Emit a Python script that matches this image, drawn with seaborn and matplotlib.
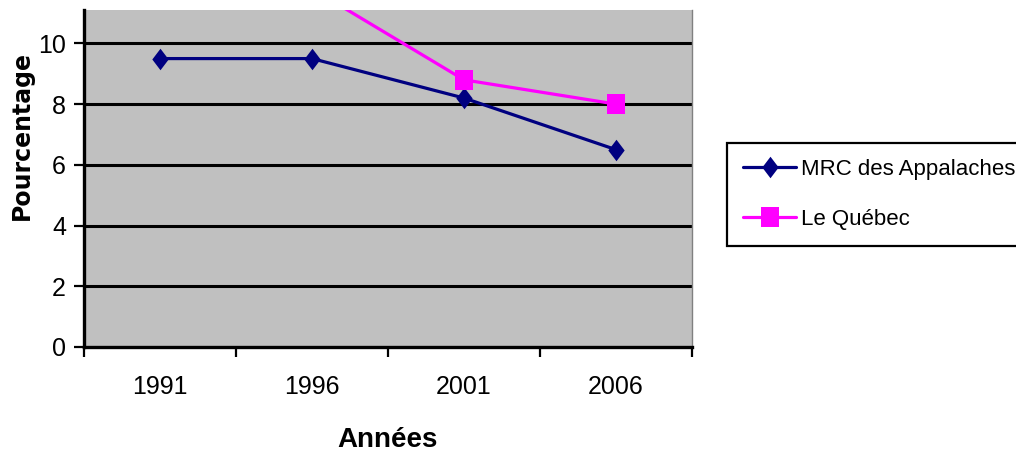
import numpy as np
import pandas as pd
import matplotlib
matplotlib.use("Agg")
import matplotlib.pyplot as plt
from matplotlib import font_manager as fm
import seaborn as sns

# Taux (%) par recensement
annees = ["1991", "1996", "2001", "2006"]
mrc_appalaches = [9.5, 9.5, 8.2, 6.5]
le_quebec = [12.0, 11.8, 8.8, 8.0]
series_noms = ["MRC des Appalaches", "Le Québec"]
y_ticks = [0, 2, 4, 6, 8, 10]

df = pd.DataFrame({
    "annee": list(range(len(annees))) * 2,
    "valeur": mrc_appalaches + le_quebec,
    "serie": [series_noms[0]] * len(annees) + [series_noms[1]] * len(annees),
})

sns.set_style("white")
installed = {f.name for f in fm.fontManager.ttflist}
narrow = "Liberation Sans Narrow" if "Liberation Sans Narrow" in installed else "Liberation Sans"
plt.rcParams["font.family"] = [narrow, "DejaVu Sans"]
plt.rcParams["text.color"] = "black"
plt.rcParams["axes.labelcolor"] = "black"
plt.rcParams["xtick.color"] = "black"
plt.rcParams["ytick.color"] = "black"

couleurs = {series_noms[0]: "#000080", series_noms[1]: "#FF00FF"}
# diamant un peu plus haut que large, carré légèrement étiré
losange = [(0, 0.5), (0.38, 0), (0, -0.5), (-0.38, 0), (0, 0.5)]
carre = [(-0.42, -0.5), (0.42, -0.5), (0.42, 0.5), (-0.42, 0.5), (-0.42, -0.5)]
marqueurs = {series_noms[0]: (losange, 15.5), series_noms[1]: (carre, 15.0)}

fig = plt.figure(figsize=(10.16, 4.53), dpi=100)
ax = fig.add_axes([84 / 1016, (453 - 347) / 453, (692 - 84) / 1016, (347 - 10) / 453])
ax.set_facecolor("#C0C0C0")

for nom in series_noms:
    m, ms = marqueurs[nom]
    sns.lineplot(data=df[df["serie"] == nom], x="annee", y="valeur", ax=ax,
                 color=couleurs[nom], linewidth=2.3, marker=m, markersize=ms,
                 markeredgewidth=0, legend=False, zorder=3)

ax.set_xlim(-0.5, len(annees) - 0.5)
ax.set_ylim(0, 11.1)

# grille horizontale noire
ax.set_yticks(y_ticks)
ax.set_yticklabels([str(v) for v in y_ticks])
for v in y_ticks[1:]:
    ax.axhline(v, color="black", linewidth=2.2, zorder=1)

# graduations aux frontières des catégories, étiquettes au centre
ax.set_xticks(np.arange(-0.5, len(annees), 1.0))
ax.set_xticklabels([])
ax.set_xticks(range(len(annees)), minor=True)
ax.set_xticklabels(annees, minor=True)
ax.tick_params(axis="x", which="major", direction="out", length=7, width=1.6, color="black", bottom=True)
ax.tick_params(axis="x", which="minor", length=0, pad=20, labelsize=18)
ax.tick_params(axis="y", direction="out", length=7, width=1.6, color="black", left=True, pad=6, labelsize=18)

ax.spines["top"].set_visible(False)
ax.spines["right"].set_color("#808080")
ax.spines["right"].set_linewidth(1.0)
ax.spines["left"].set_color("black")
ax.spines["left"].set_linewidth(2.4)
ax.spines["bottom"].set_color("black")
ax.spines["bottom"].set_linewidth(2.4)

ax.set_xlabel("")
ax.set_ylabel("")
fig.text(388 / 1016, 1 - 440 / 453, "Années", ha="center", va="center",
         fontsize=20, fontweight="bold")
fig.text(22 / 1016, 1 - 135 / 453, "Pourcentage", ha="center", va="center",
         rotation=90, fontsize=17, fontweight="bold", family=["DejaVu Sans"])

handles = ax.get_lines()[:2]
leg = fig.legend(handles, series_noms, loc="upper left",
                 bbox_to_anchor=(727 / 1016, 1 - 143 / 453), bbox_transform=fig.transFigure,
                 frameon=True, fancybox=False, edgecolor="black", framealpha=1,
                 borderpad=0.72, handlelength=2.4, handletextpad=0.22,
                 labelspacing=1.3, borderaxespad=0, fontsize=16)
leg.get_frame().set_linewidth(1.6)

fig.savefig("out.png", dpi=100, facecolor="white")
